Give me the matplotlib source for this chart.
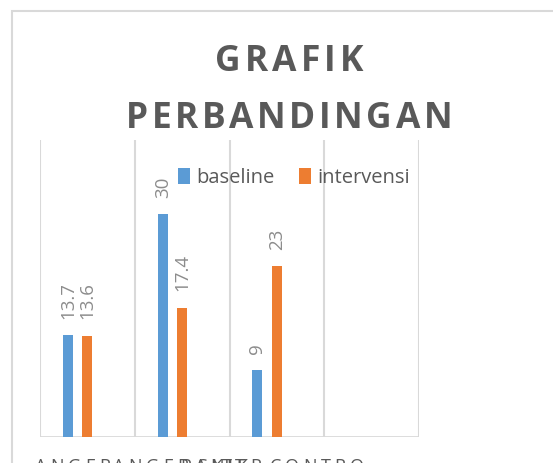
""" Grafik perbandingan baseline vs intervensi """
import matplotlib
matplotlib.use("Agg")
import matplotlib.pyplot as plt
from matplotlib.patches import Rectangle

categories = ["Kategori 1", "Kategori 2", "Kategori 3", "Kategori 4"]
baseline = [13.7, 30, 9, None]
intervensi = [13.6, 17.4, 23, None]
bottom_labels = ["ANGER", "ANGER", "PANIK", "SKIT", "TER", "CONTRO"]
bottom_label_x = [35, 113, 180, 197, 222, 270]

BLUE = "#5B9BD5"
ORANGE = "#ED7D31"
GRID = "#D9D9D9"
TEXT = "#595959"
LABEL = "#8C8C8C"
W, H = 553, 463


def spaced_text(fig, renderer, x_px, y_px, s, gap, ha="left", **kw):
    """Draw text letter by letter with extra spacing (pixel coords from top-left)"""
    widths = []
    for ch in s:
        t = fig.text(0, 0, ch, **kw)
        widths.append(t.get_window_extent(renderer).width if ch != " " else None)
        t.remove()
    widths = [w if w is not None else 8 for w in widths]
    total = sum(widths) + gap * (len(s) - 1)
    x = x_px - total / 2 if ha == "center" else x_px
    for ch, w in zip(s, widths):
        fig.text(x / W, 1 - y_px / H, ch, ha="left", **kw)
        x += w + gap


def main():
    """Build the chart"""
    fig = plt.figure(figsize=(W / 100, H / 100), dpi=100)
    renderer = fig.canvas.get_renderer()

    # chart border (cut off at right and bottom)
    fig.patches.append(Rectangle((12 / W, -0.1), 1.2, 1 - 11 / H + 0.1,
                                 transform=fig.transFigure, fill=False,
                                 edgecolor=GRID, linewidth=1.5))

    ax = fig.add_axes([40 / W, (H - 437) / H, 379 / W, 297 / H])
    xs = list(range(len(categories)))
    width = 0.105
    b_x = [x - 0.205 for x, v in zip(xs, baseline) if v is not None]
    b_v = [v for v in baseline if v is not None]
    i_x = [x for x, v in zip(xs, intervensi) if v is not None]
    i_v = [v for v in intervensi if v is not None]
    ax.bar(b_x, b_v, width, color=BLUE, label="baseline", zorder=3)
    ax.bar(i_x, i_v, width, color=ORANGE, label="intervensi", zorder=3)

    for x, v in list(zip(b_x, b_v)) + list(zip(i_x, i_v)):
        ax.annotate(f"{v:g}", (x, v), xytext=(0, 12), textcoords="offset points",
                    rotation=90, ha="center", va="bottom", color=LABEL,
                    fontsize=13.5, family="Open Sans")

    ax.set_xlim(-0.5, len(categories) - 0.5)
    ax.set_ylim(0, 40)
    for g in range(len(categories) + 1):
        ax.axvline(g - 0.5, color=GRID, linewidth=1.5, zorder=1)
    ax.axhline(0, color=GRID, linewidth=2, zorder=2)
    for s in ax.spines.values():
        s.set_visible(False)
    ax.set_xticks([])
    ax.set_yticks([])

    leg = ax.legend(loc="center", bbox_to_anchor=((294 - 40) / 379, (437 - 178) / 297),
                    ncol=2, frameon=False, handlelength=0.6,
                    handleheight=0.85, handletextpad=0.3, columnspacing=1.2,
                    prop={"family": "Open Sans", "size": 14.5})
    for t in leg.get_texts():
        t.set_color(TEXT)

    spaced_text(fig, renderer, 289, 62, "GRAFIK", 4.2, ha="center", va="center",
                fontsize=25.5, fontweight="bold", color=TEXT, family="Open Sans")
    spaced_text(fig, renderer, 289, 119, "PERBANDINGAN", 3.6, ha="center", va="center",
                fontsize=25.5, fontweight="bold", color=TEXT, family="Open Sans")

    for lab, x in zip(bottom_labels, bottom_label_x):
        spaced_text(fig, renderer, x, 458.5, lab, 4, va="top", fontsize=13,
                    color=TEXT, family="Open Sans")

    fig.savefig("out.png", dpi=100)


main()
